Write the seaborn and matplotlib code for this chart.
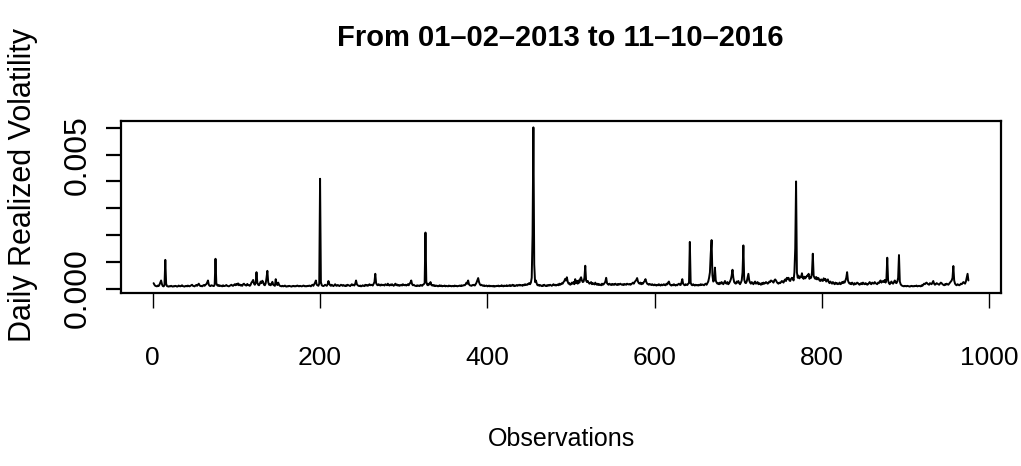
import numpy as np
import pandas as pd
import seaborn as sns
import matplotlib.pyplot as plt
from matplotlib import font_manager

# daily realized volatility in units of 1e-5
rv_1e5 = [
  20, 14, 10, 9, 8, 11, 9, 14, 22, 30, 16, 9, 8, 12, 107, 18, 9, 8, 7, 9, 8, 10, 8, 7, 9,
  8, 10, 9, 7, 8, 11, 9, 8, 10, 12, 9, 8, 7, 9, 10, 8, 11, 9, 8, 10, 12, 14, 10, 9, 8,
  11, 13, 10, 14, 18, 12, 9, 10, 8, 11, 13, 10, 14, 16, 22, 30, 14, 10, 9, 12, 11, 10, 9, 14, 111,
  20, 12, 10, 13, 9, 11, 10, 8, 12, 10, 9, 11, 13, 10, 9, 8, 10, 12, 14, 11, 10, 13, 16, 12, 17,
  14, 19, 12, 15, 11, 13, 10, 16, 18, 14, 12, 11, 17, 13, 12, 10, 14, 22, 26, 32, 18, 14, 20, 61, 22,
  14, 12, 18, 26, 20, 29, 24, 14, 12, 19, 40, 66, 24, 14, 16, 12, 18, 25, 14, 12, 10, 35, 16, 13, 22,
  14, 10, 9, 8, 10, 8, 9, 11, 8, 7, 9, 8, 10, 9, 8, 7, 9, 10, 8, 9, 8, 10, 11, 9, 8,
  10, 9, 8, 9, 11, 10, 8, 9, 8, 10, 9, 11, 10, 8, 12, 14, 10, 16, 22, 30, 14, 12, 10, 18, 410,
  24, 12, 10, 9, 11, 14, 12, 10, 15, 28, 18, 12, 10, 14, 11, 9, 12, 16, 11, 10, 13, 12, 9, 11, 14,
  12, 10, 13, 11, 9, 12, 10, 14, 12, 11, 9, 13, 16, 12, 14, 11, 18, 30, 16, 12, 10, 9, 11, 8, 10,
  12, 10, 9, 14, 11, 13, 10, 12, 16, 12, 14, 13, 11, 18, 24, 55, 20, 14, 12, 16, 13, 11, 15, 12, 14,
  13, 11, 16, 14, 12, 18, 13, 11, 15, 12, 16, 13, 10, 14, 18, 12, 15, 11, 13, 10, 12, 14, 11, 16, 13,
  12, 14, 11, 13, 16, 12, 18, 22, 30, 16, 12, 14, 11, 10, 9, 12, 10, 11, 9, 13, 12, 10, 14, 16, 20,
  209, 26, 14, 12, 18, 15, 24, 14, 11, 13, 10, 12, 9, 11, 10, 8, 10, 12, 9, 11, 8, 10, 9, 11, 8,
  10, 9, 8, 11, 9, 10, 8, 9, 10, 8, 11, 9, 10, 8, 9, 10, 11, 9, 12, 10, 11, 13, 12, 16, 22,
  18, 30, 16, 12, 11, 10, 13, 12, 14, 11, 16, 22, 30, 39, 24, 16, 12, 14, 11, 10, 12, 9, 10, 11, 8,
  9, 11, 8, 10, 9, 8, 10, 7, 9, 8, 10, 9, 11, 8, 10, 9, 12, 10, 8, 11, 9, 10, 12, 9, 11,
  10, 13, 9, 11, 14, 10, 12, 9, 11, 13, 10, 12, 14, 11, 13, 12, 10, 14, 12, 16, 13, 15, 14, 18, 20,
  16, 22, 40, 200, 602, 90, 24, 30, 18, 12, 14, 10, 13, 11, 9, 12, 10, 14, 11, 9, 12, 10, 13, 11, 14,
  12, 10, 13, 16, 12, 14, 11, 13, 15, 12, 18, 14, 16, 20, 18, 24, 28, 36, 30, 42, 26, 18, 20, 14, 16,
  22, 18, 24, 16, 35, 20, 28, 18, 30, 22, 36, 42, 30, 24, 26, 40, 85, 30, 24, 28, 22, 18, 20, 24, 16,
  20, 18, 15, 22, 16, 14, 18, 13, 16, 14, 12, 18, 14, 16, 20, 26, 40, 20, 16, 14, 18, 15, 13, 17, 14,
  16, 14, 18, 15, 13, 17, 14, 16, 18, 15, 14, 16, 13, 17, 15, 14, 18, 16, 15, 17, 14, 16, 19, 22, 18,
  24, 28, 32, 39, 26, 20, 18, 22, 16, 20, 18, 24, 28, 35, 24, 18, 16, 14, 17, 15, 13, 16, 14, 12, 15,
  13, 11, 14, 12, 16, 13, 11, 15, 12, 14, 16, 13, 12, 18, 15, 22, 26, 16, 13, 11, 14, 12, 16, 13, 11,
  14, 12, 16, 18, 14, 13, 22, 35, 18, 14, 12, 16, 14, 13, 18, 20, 174, 22, 14, 12, 16, 13, 11, 14, 12,
  13, 11, 14, 12, 16, 13, 15, 14, 12, 16, 18, 14, 20, 26, 40, 60, 130, 181, 50, 26, 30, 78, 30, 22, 18,
  20, 16, 22, 18, 24, 20, 16, 22, 28, 20, 18, 24, 16, 20, 26, 34, 48, 70, 40, 24, 20, 18, 26, 22, 28,
  20, 16, 22, 30, 60, 161, 34, 22, 20, 26, 40, 55, 30, 22, 18, 24, 20, 16, 22, 26, 18, 20, 24, 16, 20,
  18, 14, 20, 16, 22, 18, 20, 24, 22, 18, 20, 26, 24, 30, 28, 26, 22, 30, 34, 30, 24, 20, 18, 22, 20,
  24, 28, 26, 22, 30, 34, 28, 40, 36, 40, 30, 28, 36, 40, 38, 30, 60, 150, 400, 60, 40, 48, 38, 44, 42,
  57, 40, 36, 44, 38, 42, 48, 46, 55, 36, 42, 40, 60, 130, 48, 40, 36, 43, 34, 40, 38, 30, 28, 34, 30,
  28, 38, 32, 36, 26, 30, 34, 24, 20, 26, 22, 18, 24, 20, 16, 22, 18, 20, 16, 18, 22, 16, 18, 24, 20,
  26, 22, 30, 40, 61, 30, 22, 18, 20, 16, 22, 18, 14, 20, 16, 18, 22, 20, 16, 14, 18, 20, 16, 22, 18,
  16, 20, 18, 14, 16, 20, 24, 18, 16, 22, 20, 18, 24, 20, 18, 16, 22, 20, 26, 30, 22, 26, 28, 24, 32,
  22, 36, 115, 30, 20, 16, 22, 26, 20, 18, 24, 30, 22, 20, 26, 40, 125, 26, 16, 12, 10, 9, 8, 10, 9,
  8, 10, 9, 8, 7, 9, 10, 8, 9, 8, 10, 9, 11, 8, 9, 10, 9, 8, 12, 10, 14, 18, 16, 20, 22,
  18, 16, 14, 20, 18, 16, 22, 28, 18, 14, 16, 20, 18, 16, 14, 18, 22, 20, 16, 14, 12, 16, 14, 18, 16,
  14, 18, 22, 26, 30, 40, 84, 30, 18, 14, 12, 16, 14, 12, 14, 18, 16, 20, 24, 22, 18, 26, 40, 55, 30,
]

x_ticks = [0, 200, 400, 600, 800, 1000]
y_ticks = [0.000, 0.001, 0.002, 0.003, 0.004, 0.005, 0.006]
y_tick_labels = ['0.000', '', '', '', '', '0.005', '']

title = 'From 01–02–2013 to 11–10–2016'
xlabel = 'Observations'
ylabel = 'Daily Realized Volatility'

df = pd.DataFrame({'obs': np.arange(1, len(rv_1e5) + 1),
                   'rv': np.array(rv_1e5) * 1e-5})

names = {f.name for f in font_manager.fontManager.ttflist}
narrow = 'Liberation Sans Narrow' if 'Liberation Sans Narrow' in names else 'Liberation Sans'
regular = 'Liberation Sans'

sns.set_theme(style='white')
plt.rcParams['font.family'] = [regular, 'DejaVu Sans']
plt.rcParams['text.color'] = 'black'
plt.rcParams['axes.labelcolor'] = 'black'
plt.rcParams['xtick.color'] = 'black'
plt.rcParams['ytick.color'] = 'black'

fig = plt.figure(figsize=(10.21, 4.66), dpi=100)
ax = fig.add_axes([121 / 1021, 1 - 293 / 466, 880 / 1021, 172 / 466])

sns.lineplot(data=df, x='obs', y='rv', color='black', linewidth=1.4, ax=ax)

# R style 4% padding
n = len(df)
xpad = 0.04 * (n - 1)
ax.set_xlim(1 - xpad, n + xpad)
lo, hi = df['rv'].min(), df['rv'].max()
ypad = 0.04 * (hi - lo)
ax.set_ylim(lo - ypad, hi + ypad)

for s in ax.spines.values():
    s.set_color('black')
    s.set_linewidth(1.6)

ax.set_xticks(x_ticks)
ax.set_xticklabels([str(t) for t in x_ticks], fontfamily=narrow, fontsize=19)
ax.set_yticks(y_ticks)
ax.set_yticklabels(y_tick_labels, rotation=90, va='center', fontsize=23)
ax.tick_params(axis='x', direction='out', length=11, width=1.0, color='black',
               bottom=True, pad=27)
ax.tick_params(axis='y', direction='out', length=11, width=1.6, color='black',
               left=True, pad=9)

ax.set_xlabel(xlabel, fontfamily=narrow, fontsize=18, va='top')
ax.set_ylabel(ylabel, fontsize=22)
ax.xaxis.set_label_coords(0.5, -0.78)
ax.yaxis.set_label_coords(-0.094, 0.628)

fig.text(0.549, 1 - 38 / 466, title, ha='center', va='center',
         fontfamily=narrow, fontweight='bold', fontsize=21)

fig.savefig('out.png', dpi=100)
